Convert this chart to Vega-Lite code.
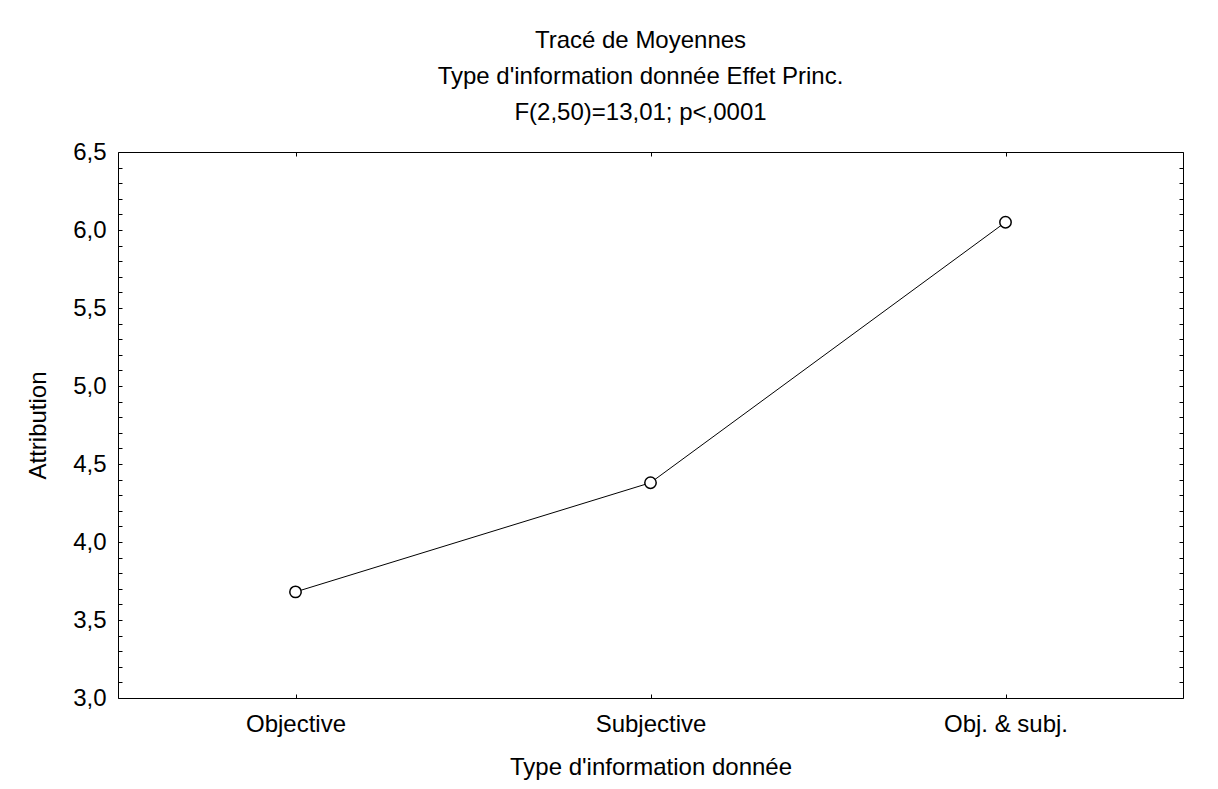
{
  "$schema": "https://vega.github.io/schema/vega-lite/v6.json",
  "width": 1065,
  "height": 546,
  "autosize": {"type": "none"},
  "padding": {"left": 118, "top": 152, "right": 35, "bottom": 91},
  "background": "white",
  "title": {
    "text": ["Tracé de Moyennes", "Type d'information donnée Effet Princ.", "F(2,50)=13,01; p<,0001"],
    "font": "Liberation Sans",
    "fontSize": 24,
    "fontWeight": "normal",
    "lineHeight": 36,
    "color": "black",
    "anchor": "middle",
    "offset": 15,
    "dx": -10
  },
  "config": {
    "view": {"stroke": null},
    "axis": {
      "labelFont": "Liberation Sans",
      "labelFontSize": 24,
      "labelColor": "black",
      "titleFont": "Liberation Sans",
      "titleFontSize": 24,
      "titleFontWeight": "normal",
      "titleColor": "black",
      "domainColor": "black",
      "domainWidth": 1,
      "tickColor": "black",
      "tickWidth": 1,
      "grid": false
    }
  },
  "data": {
    "values": [
      {"type": "Objective", "attribution": 3.68},
      {"type": "Subjective", "attribution": 4.38},
      {"type": "Obj. & subj.", "attribution": 6.05}
    ]
  },
  "resolve": {"axis": {"x": "independent", "y": "independent"}},
  "layer": [
    {
      "mark": {"type": "line", "color": "black", "strokeWidth": 1},
      "encoding": {
        "x": {
          "field": "type", "type": "nominal",
          "sort": ["Objective", "Subjective", "Obj. & subj."],
          "scale": {"type": "point", "padding": 0.5},
          "axis": {"orient": "bottom", "title": "Type d'information donnée", "labelAngle": 0, "tickSize": -4, "labelPadding": 18, "titlePadding": 19}
        },
        "y": {
          "field": "attribution", "type": "quantitative",
          "scale": {"domain": [3, 6.5], "nice": false, "zero": false},
          "axis": {
            "orient": "left",
            "title": "Attribution",
            "values": [3, 3.1, 3.2, 3.3, 3.4, 3.5, 3.6, 3.7, 3.8, 3.9, 4, 4.1, 4.2, 4.3, 4.4, 4.5, 4.6, 4.7, 4.8, 4.9, 5, 5.1, 5.2, 5.3, 5.4, 5.5, 5.6, 5.7, 5.8, 5.9, 6, 6.1, 6.2, 6.3, 6.4, 6.5],
            "labelExpr": "round(datum.value*10)%5==0 ? replace(format(datum.value,'.1f'),'.',',') : ''",
            "tickSize": -4,
            "labelPadding": 16,
            "titlePadding": 22
          }
        }
      }
    },
    {
      "mark": {"type": "point", "shape": "circle", "filled": true, "fill": "white", "stroke": "black", "strokeWidth": 1.5, "size": 130, "opacity": 1},
      "encoding": {
        "x": {
          "field": "type", "type": "nominal",
          "sort": ["Objective", "Subjective", "Obj. & subj."],
          "scale": {"type": "point", "padding": 0.5},
          "axis": {"orient": "top", "title": null, "labels": false, "tickSize": -4}
        },
        "y": {
          "field": "attribution", "type": "quantitative",
          "scale": {"domain": [3, 6.5], "nice": false, "zero": false},
          "axis": {
            "orient": "right",
            "title": null,
            "labels": false,
            "values": [3, 3.1, 3.2, 3.3, 3.4, 3.5, 3.6, 3.7, 3.8, 3.9, 4, 4.1, 4.2, 4.3, 4.4, 4.5, 4.6, 4.7, 4.8, 4.9, 5, 5.1, 5.2, 5.3, 5.4, 5.5, 5.6, 5.7, 5.8, 5.9, 6, 6.1, 6.2, 6.3, 6.4, 6.5],
            "tickSize": -4
          }
        }
      }
    }
  ]
}
